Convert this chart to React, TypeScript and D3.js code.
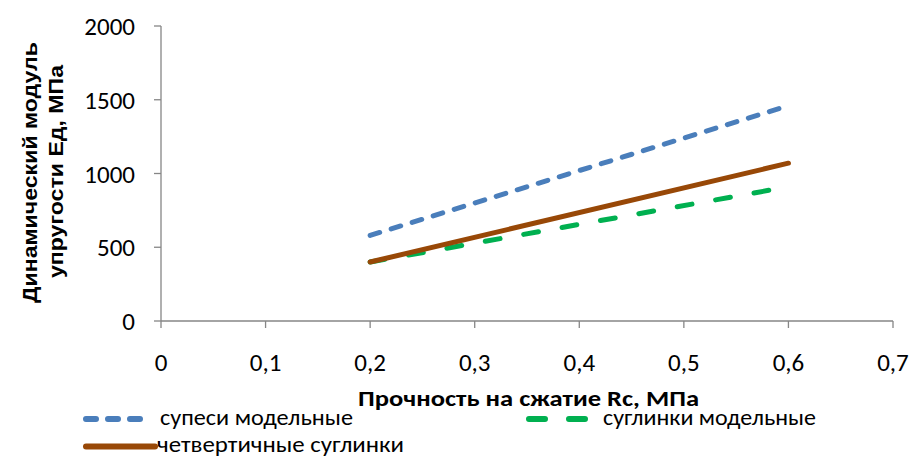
import React from "react";
import * as d3 from "d3";

const xTicks = [0, 0.1, 0.2, 0.3, 0.4, 0.5, 0.6, 0.7];
const yTicks = [0, 500, 1000, 1500, 2000];
const xValues = [0.2, 0.6];
const supesi = [580, 1460];
const suglinkiModel = [400, 910];
const chetvertichnye = [400, 1070];

const seriesNames = ["супеси модельные", "суглинки модельные", "четвертичные суглинки"];
const colors = ["#4A7EBB", "#00B050", "#984807"];

const W = 911, H = 457;
const FONT = "Carlito, Lato, 'Open Sans', sans-serif";
const ARIAL = "'Liberation Sans', Arial, sans-serif";

export default function App() {
  const x = d3.scaleLinear().domain([0, 0.7]).range([161, 893]);
  const y = d3.scaleLinear().domain([0, 2000]).range([321, 26]);
  const line = d3.line<number>().x((_, i) => x(xValues[i])).y((d) => y(d));
  const fmt = (v: number) => (v === 0 ? "0" : String(v).replace(".", ","));
  const axisColor = "#868686";
  const dashBlue = "10 12";
  const dashGreen = "15 24";
  return (
    <svg width={W} height={H} style={{ position: "absolute", left: 0, top: 0, background: "#fff" }} fontFamily={FONT}>
      {/* y axis */}
      <line x1={x(0)} x2={x(0)} y1={y(2000)} y2={y(0)} stroke={axisColor} strokeWidth={1.3} />
      {yTicks.map((t) => (
        <g key={t}>
          <line x1={x(0) - 7} x2={x(0)} y1={y(t)} y2={y(t)} stroke={axisColor} strokeWidth={1.3} />
          <text x={135} y={y(t) + 9} textAnchor="end" fontSize={25} fill="#000">{t}</text>
        </g>
      ))}
      {/* x axis */}
      <line x1={x(0)} x2={x(0.7)} y1={y(0)} y2={y(0)} stroke={axisColor} strokeWidth={1.3} />
      {xTicks.map((t) => (
        <g key={t}>
          <line x1={x(t)} x2={x(t)} y1={y(0)} y2={y(0) + 7} stroke={axisColor} strokeWidth={1.3} />
          <text x={x(t)} y={371} textAnchor="middle" fontSize={25} fill="#000">{fmt(t)}</text>
        </g>
      ))}
      {/* series */}
      <path d={line(supesi) || ""} fill="none" stroke={colors[0]} strokeWidth={5} strokeLinecap="round" strokeDasharray={dashBlue} />
      <path d={line(suglinkiModel) || ""} fill="none" stroke={colors[1]} strokeWidth={5} strokeLinecap="round" strokeDasharray={dashGreen} />
      <path d={line(chetvertichnye) || ""} fill="none" stroke={colors[2]} strokeWidth={5} strokeLinecap="round" />
      {/* axis titles */}
      <text x={358} y={405.5} fontSize={22} fontWeight="bold" fill="#000" textLength={341} lengthAdjust="spacingAndGlyphs">Прочность на сжатие Rc, МПа</text>
      <text transform="translate(36.5,172.5) rotate(-90)" textAnchor="middle" fontFamily={ARIAL} fontSize={20} fontWeight="bold" fill="#000" textLength={261} lengthAdjust="spacingAndGlyphs">Динамический модуль</text>
      <text transform="translate(62.5,171.5) rotate(-90)" textAnchor="middle" fontFamily={ARIAL} fontSize={20} fontWeight="bold" fill="#000" textLength={213} lengthAdjust="spacingAndGlyphs">упругости Ед, МПа</text>
      {/* legend */}
      <line x1={86} x2={143} y1={419} y2={419} stroke={colors[0]} strokeWidth={6} strokeLinecap="round" strokeDasharray="10 12" />
      <text x={160} y={425} fontSize={23} fill="#000" textLength={193} lengthAdjust="spacingAndGlyphs">{seriesNames[0]}</text>
      <line x1={529} x2={585} y1={419} y2={419} stroke={colors[1]} strokeWidth={6} strokeLinecap="round" strokeDasharray="16 24" />
      <text x={603} y={425} fontSize={23} fill="#000" textLength={213} lengthAdjust="spacingAndGlyphs">{seriesNames[1]}</text>
      <line x1={86} x2={155} y1={446.5} y2={446.5} stroke={colors[2]} strokeWidth={6} strokeLinecap="round" />
      <text x={157} y={452} fontSize={23} fill="#000" textLength={247} lengthAdjust="spacingAndGlyphs">{seriesNames[2]}</text>
    </svg>
  );
}
